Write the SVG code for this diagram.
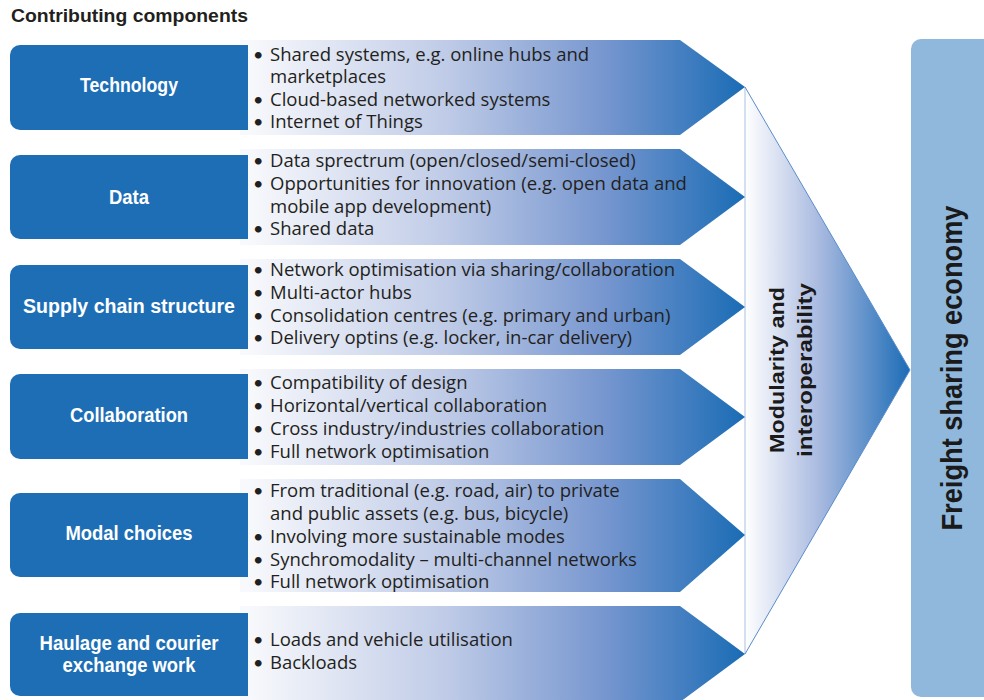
<svg xmlns="http://www.w3.org/2000/svg" width="984" height="700" viewBox="0 0 984 700">
<defs>
<linearGradient id="gArrow" gradientUnits="userSpaceOnUse" x1="248" y1="0" x2="745" y2="0">
<stop offset="0" stop-color="#f8f9fc"/>
<stop offset="0.4" stop-color="#bfcbe7"/>
<stop offset="0.72" stop-color="#7696cf"/>
<stop offset="1" stop-color="#1a6cb5"/>
</linearGradient>
<linearGradient id="gTri" gradientUnits="userSpaceOnUse" x1="745" y1="0" x2="910" y2="0">
<stop offset="0" stop-color="#ffffff"/>
<stop offset="0.45" stop-color="#a9bae0"/>
<stop offset="1" stop-color="#1c6cb6"/>
</linearGradient>
<style>
.arrow{fill:url(#gArrow);}
.box{fill:#1e6eb5;}
.lbl{font-family:"Liberation Sans",Arial,sans-serif;font-weight:bold;font-size:20px;fill:#ffffff;text-anchor:middle;}
.bul{font-family:"Open Sans","Liberation Sans",sans-serif;font-size:18.5px;fill:#231f20;}
.dot{font-family:Lato,"Liberation Sans",sans-serif;font-size:18px;}
.title{font-family:"Liberation Sans",Arial,sans-serif;font-weight:bold;font-size:18px;fill:#231f20;}
.vt{font-family:"Liberation Sans",Arial,sans-serif;font-weight:bold;fill:#1a1a1a;text-anchor:middle;}
</style>
</defs>
<rect width="984" height="700" fill="#ffffff"/>
<text class="title" x="11" y="22" textLength="237" lengthAdjust="spacingAndGlyphs">Contributing components</text>

<g id="modularity">
<polygon points="745,87 910,370 745,654" fill="url(#gTri)"/>
<line x1="745" y1="87" x2="745" y2="654" stroke="#a9c0df" stroke-width="1"/>
<polyline points="745,87 910,370 745,654" fill="none" stroke="#5a8ccb" stroke-width="1"/>
<text class="vt" font-size="21" transform="translate(784,370) rotate(-90)" textLength="166" lengthAdjust="spacingAndGlyphs">Modularity and</text>
<text class="vt" font-size="21" transform="translate(812,370) rotate(-90)" textLength="174" lengthAdjust="spacingAndGlyphs">interoperability</text>
</g>

<g id="freight">
<rect x="911" y="39" width="90" height="658" rx="10" fill="#8fb8dc"/>
<text class="vt" font-size="29" transform="translate(962,368) rotate(-90)" textLength="325" lengthAdjust="spacingAndGlyphs">Freight sharing economy</text>
</g>

<g id="technology">
<polygon class="arrow" points="240,40 680,40 745,87 680,135 240,135"/>
<path class="box" d="M248,45 V130 H20 A10,10 0 0 1 10,120 V55 A10,10 0 0 1 20,45 Z"/>
<text class="lbl" x="129" y="92" textLength="98" lengthAdjust="spacingAndGlyphs">Technology</text>
<text class="bul"><tspan class="dot" x="253" y="60.5">•</tspan><tspan x="270" y="60.5">Shared systems, e.g. online hubs and</tspan></text>
<text class="bul" x="270" y="83">marketplaces</text>
<text class="bul"><tspan class="dot" x="253" y="105.5">•</tspan><tspan x="270" y="105.5">Cloud-based networked systems</tspan></text>
<text class="bul"><tspan class="dot" x="253" y="128">•</tspan><tspan x="270" y="128">Internet of Things</tspan></text>
</g>

<g id="data">
<polygon class="arrow" points="240,149 680,149 745,197 680,245 240,245"/>
<path class="box" d="M248,155 V239 H20 A10,10 0 0 1 10,229 V165 A10,10 0 0 1 20,155 Z"/>
<text class="lbl" x="129" y="204" textLength="40" lengthAdjust="spacingAndGlyphs">Data</text>
<text class="bul"><tspan class="dot" x="253" y="167">•</tspan><tspan x="270" y="167">Data sprectrum (open/closed/semi-closed)</tspan></text>
<text class="bul"><tspan class="dot" x="253" y="190">•</tspan><tspan x="270" y="190">Opportunities for innovation (e.g. open data and</tspan></text>
<text class="bul" x="270" y="212.5">mobile app development)</text>
<text class="bul"><tspan class="dot" x="253" y="235">•</tspan><tspan x="270" y="235">Shared data</tspan></text>
</g>

<g id="supply-chain">
<polygon class="arrow" points="240,259 680,259 745,307 680,355 240,355"/>
<path class="box" d="M248,265 V349 H20 A10,10 0 0 1 10,339 V275 A10,10 0 0 1 20,265 Z"/>
<text class="lbl" x="129" y="313" textLength="212" lengthAdjust="spacingAndGlyphs">Supply chain structure</text>
<text class="bul"><tspan class="dot" x="253" y="275.5">•</tspan><tspan x="270" y="275.5">Network optimisation via sharing/collaboration</tspan></text>
<text class="bul"><tspan class="dot" x="253" y="298.5">•</tspan><tspan x="270" y="298.5">Multi-actor hubs</tspan></text>
<text class="bul"><tspan class="dot" x="253" y="321.5">•</tspan><tspan x="270" y="321.5">Consolidation centres (e.g. primary and urban)</tspan></text>
<text class="bul"><tspan class="dot" x="253" y="344">•</tspan><tspan x="270" y="344">Delivery optins (e.g. locker, in-car delivery)</tspan></text>
</g>

<g id="collaboration">
<polygon class="arrow" points="240,369 680,369 745,417 680,465 240,465"/>
<path class="box" d="M248,374 V459 H20 A10,10 0 0 1 10,449 V384 A10,10 0 0 1 20,374 Z"/>
<text class="lbl" x="129" y="422" textLength="118" lengthAdjust="spacingAndGlyphs">Collaboration</text>
<text class="bul"><tspan class="dot" x="253" y="389">•</tspan><tspan x="270" y="389">Compatibility of design</tspan></text>
<text class="bul"><tspan class="dot" x="253" y="412">•</tspan><tspan x="270" y="412">Horizontal/vertical collaboration</tspan></text>
<text class="bul"><tspan class="dot" x="253" y="435">•</tspan><tspan x="270" y="435">Cross industry/industries collaboration</tspan></text>
<text class="bul"><tspan class="dot" x="253" y="458">•</tspan><tspan x="270" y="458">Full network optimisation</tspan></text>
</g>

<g id="modal-choices">
<polygon class="arrow" points="240,479 680,479 745,535 680,592 240,592"/>
<path class="box" d="M248,493 V577 H20 A10,10 0 0 1 10,567 V503 A10,10 0 0 1 20,493 Z"/>
<text class="lbl" x="129" y="540" textLength="127" lengthAdjust="spacingAndGlyphs">Modal choices</text>
<text class="bul"><tspan class="dot" x="253" y="497">•</tspan><tspan x="270" y="497">From traditional (e.g. road, air) to private</tspan></text>
<text class="bul" x="270" y="520">and public assets (e.g. bus, bicycle)</text>
<text class="bul"><tspan class="dot" x="253" y="543">•</tspan><tspan x="270" y="543">Involving more sustainable modes</tspan></text>
<text class="bul"><tspan class="dot" x="253" y="566">•</tspan><tspan x="270" y="566">Synchromodality – multi-channel networks</tspan></text>
<text class="bul"><tspan class="dot" x="253" y="588">•</tspan><tspan x="270" y="588">Full network optimisation</tspan></text>
</g>

<g id="haulage">
<polygon class="arrow" points="240,606 680,606 745,654 680,702 240,702"/>
<path class="box" d="M248,613 V696 H20 A10,10 0 0 1 10,686 V623 A10,10 0 0 1 20,613 Z"/>
<text class="lbl" x="129" y="650" textLength="179" lengthAdjust="spacingAndGlyphs">Haulage and courier</text>
<text class="lbl" x="129" y="672" textLength="133" lengthAdjust="spacingAndGlyphs">exchange work</text>
<text class="bul"><tspan class="dot" x="253" y="646">•</tspan><tspan x="270" y="646">Loads and vehicle utilisation</tspan></text>
<text class="bul"><tspan class="dot" x="253" y="669">•</tspan><tspan x="270" y="669">Backloads</tspan></text>
</g>
<g id="connectors"></g>
</svg>
